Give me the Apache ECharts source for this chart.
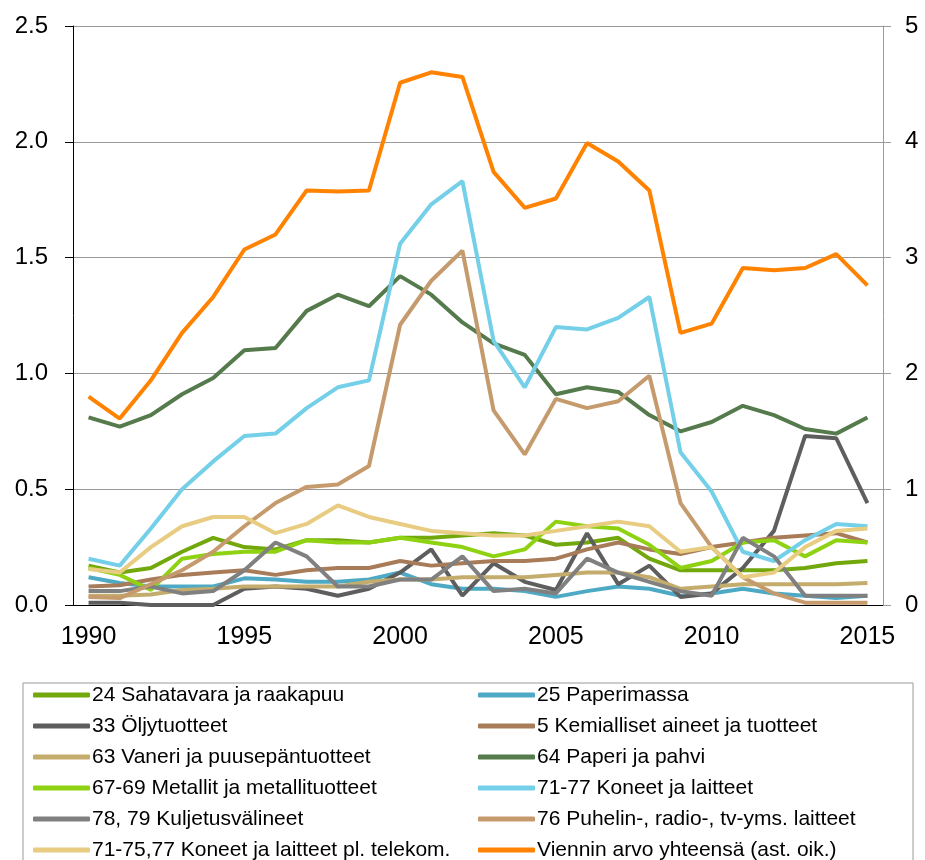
<!DOCTYPE html>
<html>
<head>
<meta charset="utf-8">
<script src="https://cdn.jsdelivr.net/npm/echarts@6/dist/echarts.min.js"></script>
<style>
  html, body { margin: 0; padding: 0; background: #fff; }
  #main { width: 925px; height: 860px; }
</style>
</head>
<body>
<div id="main"></div>
<script>
var dom = document.getElementById('main');
var myChart = echarts.init(dom);
var option;

// vuodet
var years = [];
for (var y = 1990; y <= 2015; y++) years.push(String(y));

// tuoteryhmät (vasen akseli)
var sahatavara = [0.17, 0.14, 0.16, 0.23, 0.29, 0.25, 0.24, 0.28, 0.28, 0.27, 0.29, 0.29, 0.30, 0.31, 0.30, 0.26, 0.27, 0.29, 0.20, 0.15, 0.15, 0.15, 0.15, 0.16, 0.18, 0.19];
var paperimassa = [0.12, 0.095, 0.08, 0.08, 0.08, 0.115, 0.11, 0.10, 0.10, 0.11, 0.14, 0.09, 0.07, 0.07, 0.06, 0.035, 0.06, 0.08, 0.07, 0.04, 0.05, 0.07, 0.05, 0.04, 0.03, 0.04];
var oljy = [0.01, 0.01, 0.00, 0.00, 0.00, 0.07, 0.08, 0.07, 0.04, 0.07, 0.14, 0.24, 0.04, 0.18, 0.10, 0.065, 0.31, 0.09, 0.17, 0.035, 0.05, 0.16, 0.32, 0.73, 0.72, 0.44];
var kemialliset = [0.08, 0.085, 0.11, 0.13, 0.14, 0.15, 0.13, 0.15, 0.16, 0.16, 0.19, 0.17, 0.18, 0.19, 0.19, 0.20, 0.24, 0.27, 0.24, 0.22, 0.25, 0.27, 0.29, 0.30, 0.31, 0.27];
var vaneri = [0.04, 0.04, 0.045, 0.065, 0.07, 0.08, 0.08, 0.08, 0.08, 0.10, 0.11, 0.11, 0.12, 0.12, 0.12, 0.13, 0.14, 0.14, 0.12, 0.07, 0.08, 0.09, 0.09, 0.09, 0.09, 0.095];
var paperi = [0.81, 0.77, 0.82, 0.91, 0.98, 1.10, 1.11, 1.27, 1.34, 1.29, 1.42, 1.34, 1.22, 1.13, 1.08, 0.91, 0.94, 0.92, 0.82, 0.75, 0.79, 0.86, 0.82, 0.76, 0.74, 0.81];
var metallit = [0.16, 0.13, 0.065, 0.20, 0.22, 0.23, 0.23, 0.28, 0.27, 0.27, 0.29, 0.27, 0.25, 0.21, 0.24, 0.36, 0.34, 0.33, 0.26, 0.16, 0.19, 0.27, 0.28, 0.21, 0.28, 0.27];
var koneet = [0.20, 0.17, 0.33, 0.50, 0.62, 0.73, 0.74, 0.85, 0.94, 0.97, 1.56, 1.73, 1.83, 1.14, 0.94, 1.20, 1.19, 1.24, 1.33, 0.66, 0.49, 0.23, 0.19, 0.28, 0.35, 0.34];
var kuljetus = [0.06, 0.06, 0.08, 0.05, 0.06, 0.15, 0.27, 0.21, 0.08, 0.08, 0.11, 0.11, 0.21, 0.06, 0.07, 0.05, 0.20, 0.14, 0.10, 0.06, 0.04, 0.29, 0.21, 0.04, 0.04, 0.04];
var puhelin = [0.035, 0.03, 0.09, 0.15, 0.23, 0.34, 0.44, 0.51, 0.52, 0.60, 1.21, 1.40, 1.53, 0.84, 0.65, 0.89, 0.85, 0.88, 0.99, 0.44, 0.25, 0.12, 0.05, 0.01, 0.01, 0.01];
var koneetPl = [0.155, 0.14, 0.25, 0.34, 0.38, 0.38, 0.31, 0.35, 0.43, 0.38, 0.35, 0.32, 0.31, 0.30, 0.30, 0.32, 0.34, 0.36, 0.34, 0.23, 0.25, 0.12, 0.14, 0.25, 0.32, 0.33];
// viennin arvo yhteensä (oikea akseli)
var yhteensa = [1.80, 1.61, 1.94, 2.35, 2.66, 3.07, 3.20, 3.58, 3.57, 3.58, 4.51, 4.60, 4.56, 3.74, 3.43, 3.51, 3.99, 3.83, 3.58, 2.35, 2.43, 2.91, 2.89, 2.91, 3.03, 2.76];

var names = [
    '24 Sahatavara ja raakapuu',
    '25 Paperimassa',
    '33 Öljytuotteet',
    '5 Kemialliset aineet ja tuotteet',
    '63 Vaneri ja puusepäntuotteet',
    '64 Paperi ja pahvi',
    '67-69 Metallit ja metallituotteet',
    '71-77 Koneet ja laitteet',
    '78, 79 Kuljetusvälineet',
    '76 Puhelin-, radio-, tv-yms. laitteet',
    '71-75,77 Koneet ja laitteet pl. telekom.',
    'Viennin arvo yhteensä (ast. oik.)'
];
var colors = ['#72a80c', '#4eaac4', '#5e5e5e', '#a87c58', '#c4ac6c', '#557a4c',
    '#8ed212', '#74cfe8', '#808080', '#c59b6e', '#e7cc82', '#ff8200'];
var data = [sahatavara, paperimassa, oljy, kemialliset, vaneri, paperi,
    metallit, koneet, kuljetus, puhelin, koneetPl, yhteensa];

var font = 'Liberation Sans, Arial, sans-serif';

var series = names.map(function (n, i) {
    return {
        name: n,
        type: 'line',
        yAxisIndex: i === 11 ? 1 : 0,
        data: data[i],
        symbol: 'none',
        lineStyle: { width: 4, color: colors[i] },
        itemStyle: { color: colors[i] },
        z: i === 11 ? 5 : 2
    };
});

var legendBase = {
    orient: 'vertical',
    top: 684,
    height: 400,
    padding: 0,
    icon: 'roundRect',
    itemWidth: 57,
    itemHeight: 5,
    itemGap: 9,
    textStyle: { fontFamily: font, fontSize: 21, color: '#000', lineHeight: 22, padding: [0, 0, 0, -3] }
};

option = {
    backgroundColor: '#fff',
    animation: false,
    color: colors,
    grid: { left: 73, right: 42, top: 26, bottom: 255 },
    legend: [
        Object.assign({}, legendBase, { left: 33, data: names.filter(function (n, i) { return i % 2 === 0; }) }),
        Object.assign({}, legendBase, { left: 478, data: names.filter(function (n, i) { return i % 2 === 1; }) })
    ],
    graphic: [{
        type: 'rect',
        shape: { x: 23, y: 683, width: 890, height: 200 },
        style: { fill: 'none', stroke: '#9a9a9a', lineWidth: 1 }
    }],
    xAxis: {
        type: 'category',
        data: years,
        boundaryGap: true,
        axisLine: { lineStyle: { color: '#000', width: 1 } },
        axisTick: { interval: 0, length: 8, lineStyle: { color: '#000' } },
        axisLabel: {
            interval: function (i) { return i % 5 === 0; },
            fontFamily: font, fontSize: 25, color: '#000', margin: 20
        },
        splitLine: { show: false }
    },
    yAxis: [{
        type: 'value',
        min: 0, max: 2.5, interval: 0.5,
        axisLine: { show: true, lineStyle: { color: '#000' } },
        axisTick: { show: true, length: 8, lineStyle: { color: '#000' } },
        axisLabel: {
            formatter: function (v) { return v.toFixed(1); },
            fontFamily: font, fontSize: 24, color: '#000', margin: 25
        },
        splitLine: { lineStyle: { color: '#9a9a9a', width: 1 } }
    }, {
        type: 'value',
        min: 0, max: 5, interval: 1,
        position: 'right',
        axisLine: { show: true, lineStyle: { color: '#9a9a9a' } },
        axisTick: { show: true, length: 8, lineStyle: { color: '#9a9a9a' } },
        axisLabel: { fontFamily: font, fontSize: 24, color: '#000', margin: 22 },
        splitLine: { show: false }
    }],
    series: series
};

myChart.setOption(option);
</script>
</body>
</html>
